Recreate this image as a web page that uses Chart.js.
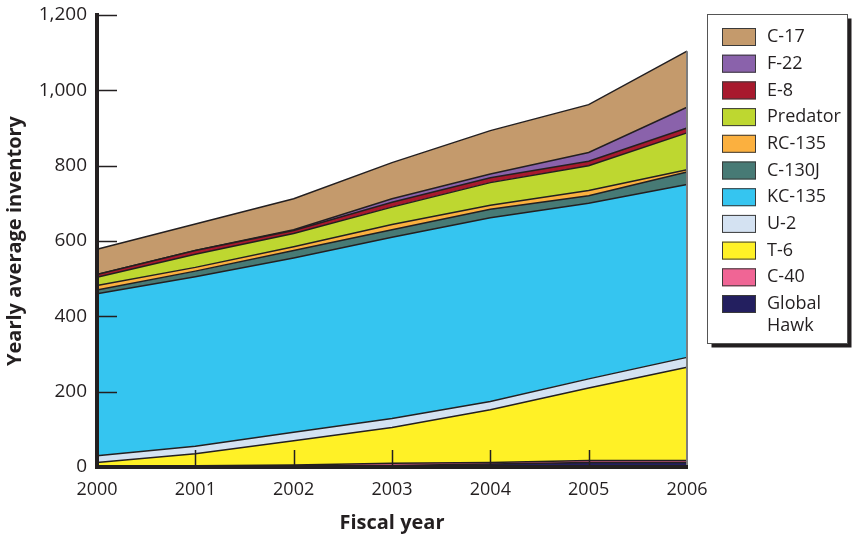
<!DOCTYPE html>
<html>
<head>
<meta charset="utf-8">
<script src="https://cdn.jsdelivr.net/npm/chart.js@4.4.0/dist/chart.umd.min.js"></script>
<style>
  html, body { margin: 0; padding: 0; background: #fff; }
</style>
</head>
<body>
<canvas id="inventory" width="853" height="539"></canvas>
<script>
// fiscal years on the x axis
const years = ['2000', '2001', '2002', '2003', '2004', '2005', '2006']
const yTicks = [0, 200, 400, 600, 800, 1000, 1200]

// yearly average inventory, bottom of the stack first
const globalHawk = [2, 2, 3, 4, 8, 12, 12]
const c40 = [1, 1, 2, 6, 4, 5, 5]
const t6 = [9, 32, 65, 95, 140, 193, 248]
const u2 = [18, 20, 22, 24, 22, 24, 26]
const kc135 = [430, 450, 463, 481, 488, 466, 459]
const c130j = [10, 15, 20, 20, 22, 20, 33]
const rc135 = [12, 10, 10, 14, 11, 14, 6]
const predator = [22, 35, 35, 46, 60, 66, 98]
const e8 = [7, 10, 8, 13, 13, 12, 13]
const f22 = [0, 0, 2, 9, 10, 23, 55]
const c17 = [67, 70, 82, 96, 115, 127, 149]

const inkColor = '#231f20'
const fontName = '"Open Sans", "Noto Sans", sans-serif'

function area(label, data, color, first) {
  return {
    label: label,
    data: data,
    backgroundColor: color,
    borderColor: inkColor,
    borderWidth: 1.5,
    pointRadius: 0,
    tension: 0,
    fill: first ? 'origin' : '-1'
  }
}

function line(ctx, x1, y1, x2, y2) {
  ctx.beginPath()
  ctx.moveTo(x1, y1)
  ctx.lineTo(x2, y2)
  ctx.stroke()
}

// inward tick marks, right edge and the boxed legend
const frame = {
  id: 'frame',
  afterDatasetsDraw(chart) {
    const ctx = chart.ctx
    const a = chart.chartArea
    const xs = chart.scales.x
    const ys = chart.scales.y
    ctx.save()
    ctx.strokeStyle = inkColor
    ctx.lineWidth = 1.5
    ys.ticks.forEach(function (t) {
      if (t.value === 0) return
      let y = Math.round(ys.getPixelForValue(t.value)) + 0.5
      line(ctx, a.left, y, a.left + 20, y)
    })
    years.forEach(function (yr, i) {
      if (i === 0 || i === years.length - 1) return
      let x = Math.round(xs.getPixelForValue(i)) + 0.5
      line(ctx, x, a.bottom, x, a.bottom - 17)
    })

    let topMeta = chart.getDatasetMeta(chart.data.datasets.length - 1)
    let topY = topMeta.data[years.length - 1].y
    ctx.strokeStyle = '#7d7d7d'
    ctx.lineWidth = 2
    line(ctx, a.right, topY, a.right, a.bottom)

    // legend box
    let bx = 707.5, by = 14.5, bw = 140, bh = 329
    ctx.fillStyle = inkColor
    ctx.fillRect(bx + 4, by + 4, bw, bh)
    ctx.fillStyle = '#fff'
    ctx.fillRect(bx, by, bw, bh)
    ctx.strokeStyle = '#555'
    ctx.lineWidth = 1
    ctx.strokeRect(bx, by, bw, bh)

    ctx.font = '18px ' + fontName
    ctx.textBaseline = 'middle'
    ctx.textAlign = 'left'
    let sets = chart.data.datasets.slice().reverse()
    let rowY = 37
    sets.forEach(function (ds) {
      ctx.fillStyle = ds.backgroundColor
      ctx.fillRect(722, rowY - 9, 34, 18)
      ctx.strokeStyle = '#3a3a3a'
      ctx.lineWidth = 1
      ctx.strokeRect(722.5, rowY - 8.5, 33, 17)
      ctx.fillStyle = inkColor
      let lines = [ds.label]
      if (ctx.measureText(ds.label).width > 78) lines = ds.label.split(' ')
      lines.forEach(function (txt, k) {
        ctx.fillText(txt, 767, rowY + k * 22)
      })
      rowY += 26.7
    })
    ctx.restore()
  }
}

const ctx = document.getElementById('inventory').getContext('2d')

new Chart(ctx, {
  type: 'line',
  data: {
    labels: years,
    datasets: [
      area('Global Hawk', globalHawk, '#231f5f', true),
      area('C-40', c40, '#f06595'),
      area('T-6', t6, '#fff126'),
      area('U-2', u2, '#d4e2f2'),
      area('KC-135', kc135, '#35c5f0'),
      area('C-130J', c130j, '#477a75'),
      area('RC-135', rc135, '#fbb03f'),
      area('Predator', predator, '#bed730'),
      area('E-8', e8, '#a8192d'),
      area('F-22', f22, '#8a62ab'),
      area('C-17', c17, '#c49a6c')
    ]
  },
  options: {
    responsive: false,
    animation: false,
    layout: { padding: { left: 0, right: 166, top: 15, bottom: 0 } },
    plugins: {
      legend: { display: false },
      tooltip: { enabled: false }
    },
    scales: {
      x: {
        offset: false,
        grid: { display: false, drawTicks: false },
        border: { display: true, color: inkColor, width: 4, z: 1 },
        ticks: { color: inkColor, font: { family: fontName, size: 18 }, padding: 12, maxRotation: 0 },
        title: {
          display: true,
          text: 'Fiscal year',
          color: inkColor,
          font: { family: fontName, size: 20, weight: 'bold' },
          padding: { top: 0, bottom: 4 }
        },
        afterFit: function (scale) { scale.height = 72 }
      },
      y: {
        stacked: true,
        min: 0,
        max: 1200,
        afterBuildTicks: function (scale) {
          scale.ticks = yTicks.map(function (v) { return { value: v } })
        },
        grid: { display: false, drawTicks: false },
        border: { display: true, color: inkColor, width: 4, z: 1 },
        ticks: {
          color: inkColor,
          font: { family: fontName, size: 19 },
          padding: 10,
          callback: function (v) { return v.toLocaleString('en-US') }
        },
        title: {
          display: true,
          text: 'Yearly average inventory',
          color: inkColor,
          font: { family: fontName, size: 20, weight: 'bold' },
          padding: { top: 3, bottom: 0 }
        },
        afterFit: function (scale) {
          scale.width = 97
          scale.paddingTop = 0
          scale.paddingBottom = 0
        }
      }
    }
  },
  plugins: [frame]
})
</script>
</body>
</html>
